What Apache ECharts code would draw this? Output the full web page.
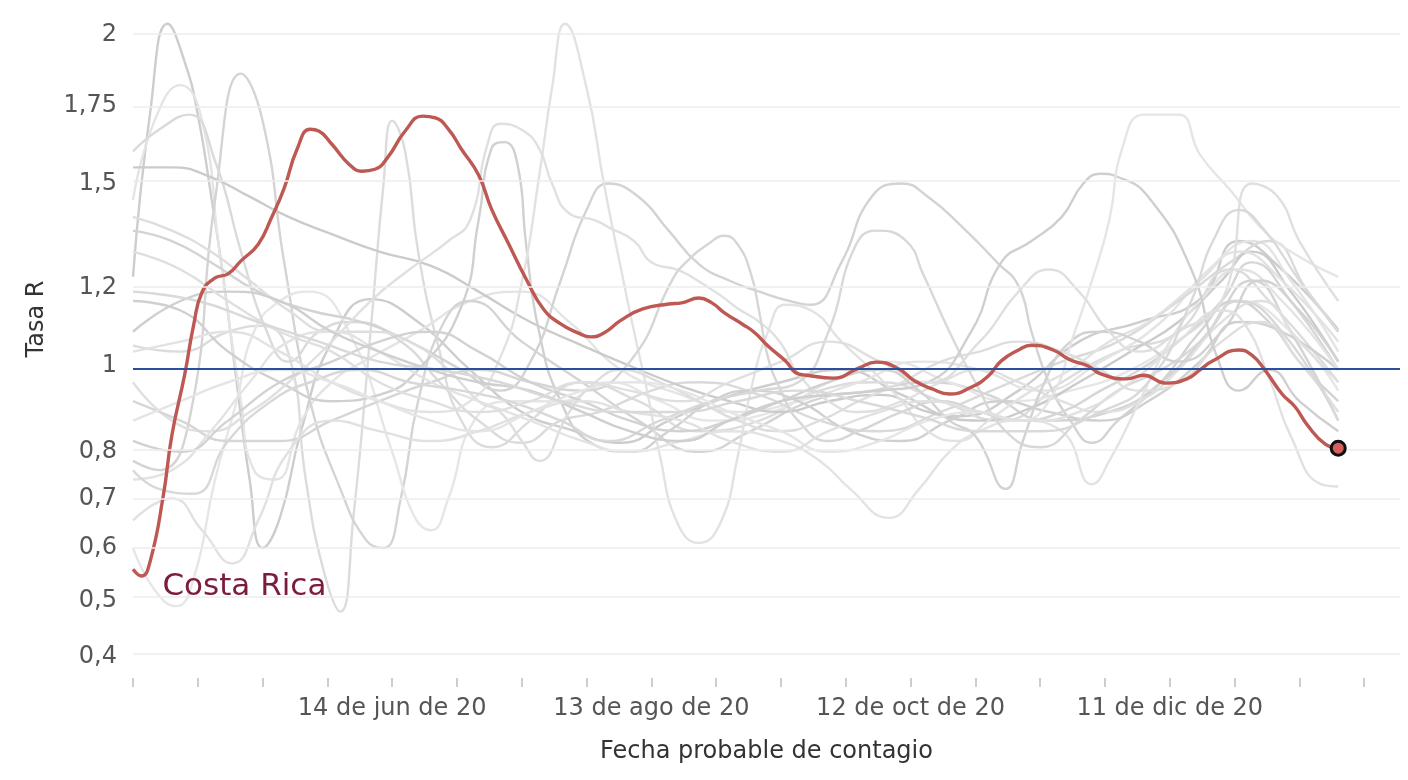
<!DOCTYPE html>
<html>
<head>
<meta charset="utf-8">
<script src="https://cdn.jsdelivr.net/npm/echarts@6/dist/echarts.min.js"></script>
<style>
html,body{margin:0;padding:0;background:#fff;}
#chart{width:1408px;height:780px;}
</style>
</head>
<body>
<div id="chart"></div>
<script>
// ---- data ----
const startDate = '2020-04-15';           // day 0 of every series
const xTickDates = ['2020-04-15','2020-04-30','2020-05-15','2020-05-30','2020-06-14','2020-06-29','2020-07-14','2020-07-29','2020-08-13','2020-08-28','2020-09-12','2020-09-27','2020-10-12','2020-10-27','2020-11-11','2020-11-26','2020-12-11','2020-12-26','2021-01-10','2021-01-25'];
const xLabelDates = ['2020-06-14','2020-08-13','2020-10-12','2020-12-11'];
const xEndDay = 293.3;
const yTicks = [0.4,0.5,0.6,0.7,0.8,1,1.2,1.5,1.75,2];
const yTickLabels = ['0,4','0,5','0,6','0,7','0,8','1','1,2','1,5','1,75','2'];
const yMinR = 0.3645, yMaxR = 2.107;
const refR = 1;

const crName = 'Costa Rica';
const crDays = [0,2,4,7,9,12,14,16,19,22,25,29,32,35,38,41,43,46,50,53,56,59,63,67,70,73,76,80,83,87,91,95,99,103,106,109,113,118,124,127,131,134,137,141,144,147,151,154,156,162,168,172,177,181,185,189,194,198,201,205,208,213,217,221,224,230,234,239,244,247,250,256,259,262,266,269,272,276,279];
const crR = [0.559,0.546,0.575,0.705,0.837,0.980,1.100,1.189,1.227,1.238,1.274,1.321,1.396,1.486,1.608,1.672,1.666,1.624,1.560,1.538,1.544,1.582,1.666,1.715,1.709,1.672,1.608,1.526,1.423,1.321,1.224,1.144,1.105,1.082,1.072,1.082,1.115,1.144,1.157,1.160,1.173,1.160,1.133,1.105,1.082,1.049,1.012,0.980,0.977,0.970,0.994,1.009,0.994,0.963,0.944,0.932,0.948,0.975,1.012,1.039,1.051,1.039,1.014,1.000,0.980,0.968,0.977,0.958,0.968,0.990,1.012,1.039,1.026,0.990,0.932,0.902,0.858,0.817,0.808];

// other countries: [day, R]
const g01 = [[0,1.23],[4,1.73],[8,2.04],[12,1.90],[15,1.72],[18,1.47],[21,1.22],[24,0.96],[27,0.74],[30,0.60],[34,0.66],[39,0.85],[46,1.06],[55,1.17],[66,1.11],[78,0.99],[90,0.89],[101,0.85],[113,0.82],[124,0.87],[136,0.92],[150,0.96],[164,0.99],[178,0.93],[191,0.88],[205,0.94],[219,1.06],[233,1.11],[247,1.17],[256,1.33],[266,1.25],[279,1.09]];
const g02 = [[0,1.05],[11,1.035],[22,1.085],[30,1.10],[36,1.03],[40,0.74],[44,0.56],[48,0.48],[51,0.66],[55,1.085],[58,1.50],[60,1.70],[63,1.60],[66,1.30],[71,1.035],[76,0.87],[83,0.81],[92,0.87],[104,0.96],[117,0.915],[131,0.846],[145,0.87],[159,0.94],[173,0.96],[187,0.915],[201,0.87],[215,0.96],[228,1.035],[242,1.085],[254,1.25],[263,1.165],[279,0.96]];
const g03 = [[0,1.45],[5,1.70],[11,1.82],[16,1.70],[20,1.30],[25,0.915],[28,0.76],[33,0.74],[39,0.87],[46,0.96],[55,1.02],[66,1.085],[78,1.165],[90,1.19],[101,1.11],[113,0.99],[127,0.93],[140,0.89],[154,0.915],[168,0.96],[182,1.01],[196,0.99],[210,0.94],[224,1.01],[238,1.11],[249,1.25],[259,1.33],[268,1.22],[279,1.035]];
const g04 = [[0,0.78],[6,0.76],[13,0.87],[19,1.45],[25,1.86],[30,1.70],[35,1.27],[41,0.915],[48,0.72],[54,0.615],[58,0.60],[62,0.70],[66,0.915],[72,1.11],[78,1.165],[90,1.06],[104,0.96],[117,0.87],[131,0.80],[143,0.846],[157,0.915],[171,0.94],[184,0.96],[198,0.93],[212,0.87],[226,0.89],[238,0.96],[249,1.085],[259,1.22],[268,1.085],[279,0.87]];
const g05 = [[0,0.60],[5,0.52],[10,0.49],[14,0.54],[19,0.74],[24,0.915],[28,1.085],[34,1.165],[41,1.19],[50,1.085],[60,0.80],[65,0.665],[69,0.635],[73,0.70],[79,0.87],[87,0.915],[99,0.915],[110,0.96],[122,0.915],[134,0.87],[148,0.89],[161,0.96],[175,1.01],[189,0.96],[203,0.915],[217,0.94],[231,0.99],[245,1.085],[256,1.165],[268,1.085],[279,0.94]];
const g06 = [[0,1.60],[6,1.67],[13,1.72],[19,1.57],[25,1.30],[31,1.085],[36,1.01],[43,1.085],[51,1.11],[62,1.06],[71,0.96],[80,0.87],[90,0.82],[99,0.87],[108,0.89],[120,0.94],[131,0.96],[145,0.93],[159,0.87],[173,0.846],[187,0.89],[201,0.95],[215,1.01],[228,1.06],[242,1.165],[254,1.27],[263,1.33],[272,1.19],[279,1.085]];
const g07 = [[0,1.55],[9,1.55],[18,1.52],[27,1.46],[36,1.40],[46,1.35],[57,1.30],[69,1.26],[80,1.19],[92,1.11],[104,1.05],[115,1.00],[127,0.95],[138,0.915],[150,0.89],[161,0.915],[173,0.93],[184,0.89],[196,0.87],[208,0.90],[219,0.96],[231,1.035],[242,1.11],[252,1.22],[259,1.30],[268,1.19],[279,1.01]];
const g08 = [[0,1.36],[9,1.33],[18,1.27],[29,1.19],[41,1.14],[53,1.11],[64,1.06],[76,0.99],[85,0.94],[92,1.01],[99,1.22],[105,1.42],[110,1.50],[117,1.46],[124,1.36],[131,1.265],[138,1.22],[145,1.19],[152,1.165],[157,1.155],[164,1.27],[171,1.46],[178,1.50],[184,1.46],[192,1.37],[200,1.27],[205,1.205],[208,1.085],[212,0.96],[217,0.87],[222,0.82],[228,0.87],[238,0.96],[247,1.085],[255,1.165],[263,1.11],[270,1.01],[279,0.915]];
const g09 = [[0,1.165],[11,1.14],[22,1.035],[34,0.96],[46,0.915],[57,0.93],[66,0.99],[76,1.15],[80,1.39],[83,1.61],[86,1.63],[89,1.56],[91,1.32],[94,1.085],[99,0.915],[106,0.82],[115,0.80],[124,0.846],[134,0.915],[143,0.94],[154,0.915],[166,0.846],[178,0.824],[189,0.87],[201,0.915],[212,0.89],[224,0.87],[235,0.915],[247,1.01],[256,1.11],[266,1.085],[279,0.99]];
const g10 = [[0,1.035],[11,1.06],[22,1.085],[34,1.035],[46,0.96],[57,0.915],[69,0.89],[78,0.915],[85,1.02],[90,1.215],[94,1.52],[97,1.81],[100,2.04],[105,1.81],[109,1.50],[113,1.25],[116,1.085],[119,0.94],[122,0.79],[126,0.65],[131,0.61],[136,0.65],[140,0.79],[143,0.94],[147,1.085],[151,1.155],[157,1.14],[164,1.06],[171,0.99],[178,0.915],[184,0.846],[191,0.824],[198,0.87],[208,0.94],[217,0.99],[226,1.06],[235,1.11],[247,1.22],[256,1.30],[266,1.22],[279,1.06]];
const g11 = [[0,0.96],[9,0.87],[18,0.846],[27,0.89],[36,0.96],[46,1.06],[55,1.165],[64,1.25],[73,1.33],[78,1.39],[82,1.62],[85,1.69],[90,1.67],[94,1.61],[97,1.50],[101,1.41],[107,1.39],[110,1.37],[116,1.33],[120,1.27],[126,1.25],[130,1.225],[136,1.18],[140,1.145],[145,1.11],[150,1.055],[154,0.98],[161,0.915],[168,0.89],[178,0.915],[187,0.96],[196,0.99],[205,0.96],[215,0.915],[224,0.89],[233,0.915],[242,0.99],[252,1.11],[261,1.165],[270,1.06],[279,0.96]];
const g12 = [[0,0.915],[11,0.87],[22,0.824],[34,0.824],[46,0.87],[57,0.915],[69,0.96],[80,0.99],[92,0.96],[104,0.94],[115,1.01],[125,1.225],[128,1.27],[133,1.32],[137,1.345],[140,1.32],[143,1.24],[145,1.135],[147,1.02],[150,0.94],[154,0.87],[161,0.824],[168,0.846],[178,0.89],[187,0.915],[196,0.89],[205,0.87],[215,0.89],[224,0.94],[233,0.99],[242,1.06],[252,1.165],[259,1.27],[268,1.165],[279,0.99]];
const g13 = [[0,1.40],[9,1.36],[18,1.30],[27,1.22],[36,1.14],[46,1.085],[55,1.085],[64,1.06],[73,0.99],[80,0.915],[85,0.89],[90,0.824],[94,0.78],[101,0.89],[107,0.96],[113,0.99],[122,0.96],[131,0.915],[140,0.87],[150,0.846],[159,0.87],[168,0.915],[178,0.96],[187,1.01],[196,1.035],[205,1.06],[215,1.035],[224,0.99],[233,0.94],[242,0.96],[252,1.06],[261,1.11],[270,1.01],[279,0.89]];
const g14 = [[0,0.74],[9,0.76],[18,0.846],[27,0.96],[36,1.06],[46,1.085],[57,1.035],[69,0.96],[80,0.915],[92,0.87],[104,0.824],[115,0.80],[127,0.824],[138,0.846],[150,0.824],[159,0.78],[166,0.72],[175,0.66],[182,0.72],[189,0.80],[196,0.846],[205,0.87],[215,0.846],[222,0.73],[226,0.78],[233,0.915],[240,1.06],[247,1.165],[256,1.25],[266,1.165],[279,0.99]];
const g15 = [[0,0.76],[6,0.72],[14,0.71],[22,0.824],[32,0.915],[41,0.96],[53,0.99],[64,0.96],[76,0.94],[87,0.915],[99,0.87],[110,0.824],[122,0.87],[134,0.915],[145,0.94],[154,0.96],[161,1.085],[167,1.31],[172,1.36],[179,1.33],[183,1.235],[189,1.085],[195,0.96],[202,0.846],[210,0.81],[219,0.87],[228,0.94],[238,0.99],[247,1.06],[256,1.165],[266,1.085],[279,0.87]];
const g16 = [[0,0.824],[11,0.80],[22,0.87],[34,0.96],[46,1.01],[57,1.06],[69,1.085],[80,1.035],[92,0.96],[104,0.915],[115,0.87],[127,0.846],[138,0.87],[150,0.915],[161,0.96],[173,0.99],[182,0.94],[189,0.87],[195,0.835],[202,0.72],[206,0.824],[211,0.96],[217,1.06],[224,1.085],[233,1.06],[242,1.01],[252,1.085],[261,1.22],[270,1.14],[279,1.01]];
const g17 = [[0,1.085],[11,1.165],[22,1.19],[34,1.165],[46,1.085],[57,1.035],[69,0.99],[80,0.96],[92,0.94],[104,0.89],[115,0.846],[127,0.824],[138,0.87],[150,0.915],[161,0.93],[173,0.94],[184,0.96],[194,1.085],[201,1.27],[208,1.33],[215,1.40],[220,1.50],[224,1.53],[228,1.52],[235,1.46],[245,1.25],[251,1.02],[256,0.94],[263,0.99],[270,0.915],[279,0.846]];
const g18 = [[0,0.87],[11,0.915],[22,0.96],[34,0.99],[46,0.96],[57,0.915],[69,0.87],[80,0.846],[92,0.89],[104,0.94],[115,0.96],[127,0.94],[138,0.89],[150,0.846],[161,0.80],[173,0.824],[184,0.87],[196,0.89],[205,0.87],[212,0.915],[218,1.085],[222,1.22],[226,1.39],[229,1.61],[234,1.72],[242,1.72],[247,1.59],[254,1.48],[261,1.37],[268,1.30],[279,1.23]];
const g19 = [[0,0.655],[9,0.70],[16,0.635],[23,0.57],[29,0.655],[36,0.80],[46,0.87],[57,0.846],[69,0.824],[80,0.846],[92,0.89],[104,0.915],[115,0.89],[127,0.87],[138,0.824],[150,0.80],[161,0.846],[173,0.89],[184,0.915],[196,0.89],[208,0.87],[219,0.89],[231,0.96],[242,1.06],[252,1.14],[257,1.11],[263,0.97],[268,0.835],[275,0.73],[279,0.725]];
const g20 = [[0,1.30],[11,1.25],[22,1.165],[34,1.085],[46,1.035],[57,0.96],[69,0.915],[80,0.89],[92,0.915],[104,0.96],[115,0.94],[127,0.915],[138,0.96],[150,1.01],[161,1.06],[173,1.01],[184,0.96],[196,1.06],[205,1.19],[212,1.25],[219,1.19],[226,1.085],[233,1.035],[242,1.085],[252,1.165],[259,1.50],[265,1.46],[270,1.33],[279,1.165]];
const g21 = [[0,1.19],[15,1.165],[29,1.11],[43,1.06],[57,1.01],[71,0.99],[85,0.96],[99,0.915],[113,0.89],[127,0.89],[140,0.915],[154,0.94],[168,0.915],[182,0.88],[196,0.846],[210,0.846],[224,0.89],[235,0.96],[245,1.165],[250,1.33],[256,1.42],[262,1.36],[270,1.22],[279,1.085]];
const greyLines = [g01,g02,g03,g04,g05,g06,g07,g08,g09,g10,g11,g12,g13,g14,g15,g16,g17,g18,g19,g20,g21];
const greyShades = ['#cdcdcd','#dcdcdc','#e4e4e4','#d4d4d4','#e6e6e6','#dadada','#cbcbcb','#d3d3d3','#d0d0d0','#e2e2e2','#e0e0e0','#d6d6d6','#dedede','#e3e3e3','#d8d8d8','#d2d2d2','#cfcfcf','#e5e5e5','#e1e1e1','#dfdfdf','#d9d9d9'];

// ---- helpers ----
const DAY = 86400000;
function parseDate(s){const p=s.split('-').map(Number);return Date.UTC(p[0],p[1]-1,p[2]);}
const T0 = parseDate(startDate);
const ts = d => T0 + d*DAY;
const f = r => Math.log(1 + r);            // vertical scale of the original (ln(1+R))
const months = ['ene','feb','mar','abr','may','jun','jul','ago','sep','oct','nov','dic'];
function fmtDate(v){const d=new Date(v);return d.getUTCDate()+' de '+months[d.getUTCMonth()]+' de '+String(d.getUTCFullYear()).slice(2);}
function fmtY(v){let best=0,bd=1e9;yTicks.forEach((t,i)=>{const dd=Math.abs(f(t)-v);if(dd<bd){bd=dd;best=i;}});return yTickLabels[best];}

const FONT = '"DejaVu Sans", Verdana, sans-serif';

const series = [];
series.push({
  type:'line', data:[], z:1, silent:true,
  markLine:{silent:true, symbol:['none','none'], label:{show:false}, emphasis:{disabled:true},
    lineStyle:{color:'#ececec', width:1.5, type:'solid'},
    data: yTicks.map(t=>({yAxis:f(t)}))}
});
greyLines.forEach((g,i)=>{
  series.push({
    type:'line', name:'g'+(i+1), smooth:0.5, showSymbol:false, silent:true, z:2,
    lineStyle:{color:greyShades[i%greyShades.length], width:2.4},
    emphasis:{disabled:true},
    data: g.map(p=>[ts(p[0]), f(p[1])])
  });
});
series.push({
  type:'line', data:[], z:3, silent:true,
  markLine:{silent:true, symbol:['none','none'], label:{show:false}, emphasis:{disabled:true},
    lineStyle:{color:'#2b4f9c', width:2, type:'solid'},
    data:[{yAxis:f(refR)}]}
});
const lastI = crDays.length-1;
series.push({
  type:'line', name:crName, smooth:0.5, showSymbol:false, z:4,
  lineStyle:{color:'#be5853', width:3.4},
  emphasis:{disabled:true},
  data: crDays.map((d,i)=>[ts(d), f(crR[i])]),
  markPoint:{
    silent:true, animation:false,
    data:[
      {coord:[ts(crDays[lastI]), f(crR[lastI])], symbol:'circle', symbolSize:14,
        itemStyle:{color:'#d3605c', borderColor:'#111', borderWidth:3}, label:{show:false}},
      {coord:[ts(6), f(0.525)], symbol:'circle', symbolSize:1,
        itemStyle:{color:'rgba(0,0,0,0)'},
        label:{show:true, position:'right', distance:3, formatter:crName,
          color:'#7b1b3f', fontSize:31, fontFamily:FONT}}
    ]
  }
});

const chart = echarts.init(document.getElementById('chart'));
chart.setOption({
  animation:false,
  backgroundColor:'#ffffff',
  grid:{left:133, right:8, top:6, bottom:102, containLabel:false},
  xAxis:{
    type:'value', min:T0, max:ts(xEndDay), scale:true,
    name:'Fecha probable de contagio', nameLocation:'middle', nameGap:62,
    nameTextStyle:{color:'#333', fontSize:24, fontFamily:FONT, lineHeight:24},
    axisLine:{show:false},
    axisTick:{show:true, length:9, lineStyle:{color:'#bdbdbd', width:1.5},
      customValues: xTickDates.map(parseDate)},
    axisLabel:{show:true, margin:19, color:'#555', fontSize:24, fontFamily:FONT, lineHeight:24,
      customValues: xLabelDates.map(parseDate), formatter:v=>fmtDate(v), hideOverlap:false},
    splitLine:{show:false}
  },
  yAxis:{
    type:'value', min:f(yMinR), max:f(yMaxR),
    name:'Tasa R', nameLocation:'middle', nameGap:84,
    nameTextStyle:{color:'#333', fontSize:24, fontFamily:FONT, lineHeight:24, padding:[0,0,0,46]},
    axisLine:{show:false}, axisTick:{show:false},
    axisLabel:{show:true, margin:16, color:'#555', fontSize:24, fontFamily:FONT,
      customValues: yTicks.map(f), formatter:v=>fmtY(v)},
    splitLine:{show:false}
  },
  series: series
});
</script>
</body>
</html>
